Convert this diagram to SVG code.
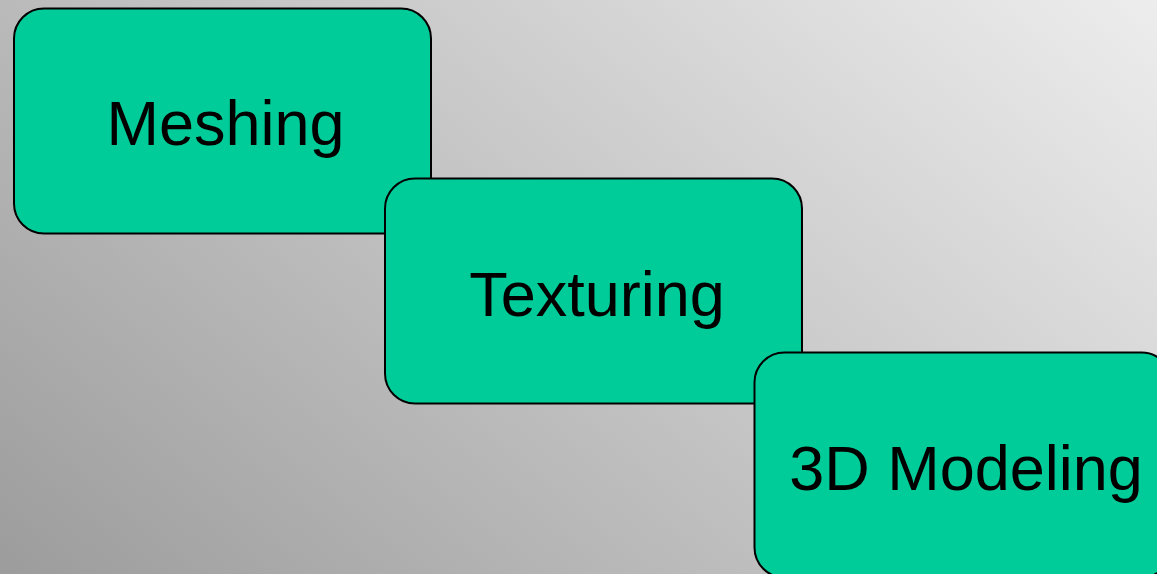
<svg xmlns="http://www.w3.org/2000/svg" width="1157" height="574" viewBox="0 0 1157 574">
  <defs>
    <linearGradient id="bg" gradientUnits="userSpaceOnUse" x1="0" y1="574" x2="764" y2="-332">
      <stop offset="0" stop-color="#9c9c9c"/>
      <stop offset="1" stop-color="#ededed"/>
    </linearGradient>
    <style>
      .step { fill: #00cc99; stroke: #000000; stroke-width: 2; }
      .label { font-family: "Liberation Sans", Arial, sans-serif; font-size: 63px; fill: #000000; text-anchor: middle; }
    </style>
  </defs>
  <rect x="0" y="0" width="1157" height="574" fill="url(#bg)"/>
  <g id="connectors"></g>
  <g id="node-meshing">
    <rect class="step" x="14" y="8.5" width="417" height="225" rx="30" ry="30"/>
    <text class="label" x="225.5" y="144.5">Meshing</text>
  </g>
  <g id="node-texturing">
    <rect class="step" x="385" y="178.5" width="417" height="225" rx="30" ry="30"/>
    <text class="label" x="597" y="315.5">Texturing</text>
  </g>
  <g id="node-modeling">
    <rect class="step" x="754.5" y="352.5" width="417" height="225" rx="30" ry="30"/>
    <text class="label" x="966" y="489.5">3D Modeling</text>
  </g>
</svg>
